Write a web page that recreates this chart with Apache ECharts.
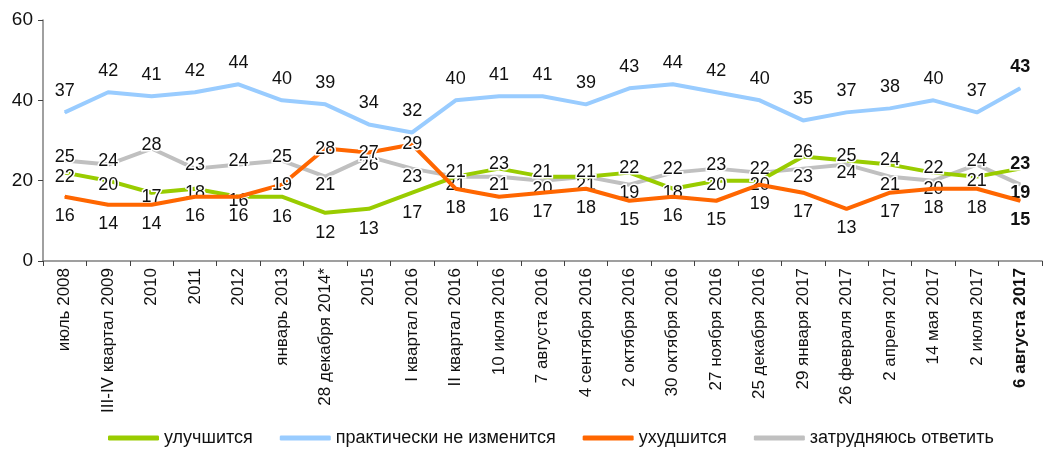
<!DOCTYPE html>
<html>
<head>
<meta charset="utf-8">
<script src="https://cdn.jsdelivr.net/npm/echarts@6/dist/echarts.min.js"></script>
<style>
  html, body { margin: 0; padding: 0; background: #fff; }
  #chart { width: 1059px; height: 455px; }
</style>
</head>
<body>
<div id="chart"></div>
<script>
var categories = ['июль 2008', 'III-IV квартал 2009', '2010', '2011', '2012', 'январь 2013',
  '28 декабря 2014*', '2015', 'I квартал 2016', 'II квартал 2016', '10 июля 2016',
  '7 августа 2016', '4 сентября 2016', '2 октября 2016', '30 октября 2016',
  '27 ноября 2016', '25 декабря 2016', '29 января 2017', '26 февраля 2017',
  '2 апреля 2017', '14 мая 2017', '2 июля 2017', '6 августа 2017'];

var better = [22, 20, 17, 18, 16, 16, 12, 13, 17, 21, 23, 21, 21, 22, 18, 20, 20, 26, 25, 24, 22, 21, 23];
var same   = [37, 42, 41, 42, 44, 40, 39, 34, 32, 40, 41, 41, 39, 43, 44, 42, 40, 35, 37, 38, 40, 37, 43];
var worse  = [16, 14, 14, 16, 16, 19, 28, 27, 29, 18, 16, 17, 18, 15, 16, 15, 19, 17, 13, 17, 18, 18, 15];
var hard   = [25, 24, 28, 23, 24, 25, 21, 26, 23, 21, 21, 20, 21, 19, 22, 23, 22, 23, 24, 21, 20, 24, 19];

var seriesNames = ['улучшится', 'практически не изменится', 'ухудшится', 'затрудняюсь ответить'];
var colors = ['#99cc00', '#99ccff', '#ff6600', '#c0c0c0'];

var last = categories.length - 1;

// vertical shift of a value label, picked from how the lines sit at that point
function shift(key, i) {
  var g = better[i], o = worse[i], h = hard[i];
  if (key === 'same') return -21;
  if (key === 'worse') return (o <= g && o <= h) ? 19 : 0;
  if (key === 'better') {
    if (g < o && g < h) return 20;
    return g >= h ? -5 : 4;
  }
  // hard
  return (h > g && h > o) ? -4 : 8;
}

function points(key, vals) {
  return vals.map(function (v, i) {
    return {
      value: v,
      label: {
        offset: [0, shift(key, i)],
        fontWeight: i === last ? 'bold' : 'normal'
      }
    };
  });
}

function lineSeries(name, color, key, vals, z) {
  return {
    name: name,
    type: 'line',
    z: z,
    data: points(key, vals),
    symbol: 'circle',
    symbolSize: 1,
    itemStyle: { color: color },
    lineStyle: { color: color, width: 4 },
    label: {
      show: true,
      position: 'inside',
      color: '#111',
      fontSize: 18,
      fontFamily: 'Liberation Sans',
      textBorderColor: '#fff',
      textBorderWidth: 3
    },
    emphasis: { disabled: true },
    animation: false
  };
}

var chart = echarts.init(document.getElementById('chart'));
var option = {
  backgroundColor: '#fff',
  grid: { left: 43, right: 17, top: 20, bottom: 194 },
  legend: {
    left: 103,
    bottom: 3,
    icon: 'roundRect',
    itemWidth: 51,
    itemHeight: 5,
    itemGap: 27,
    textStyle: { fontSize: 18, color: '#111', fontFamily: 'Liberation Sans' },
    data: seriesNames
  },
  xAxis: {
    type: 'category',
    data: categories,
    axisLine: { lineStyle: { color: '#808080', width: 1.5 } },
    axisTick: { show: true, length: 5, lineStyle: { color: '#404040' } },
    axisLabel: {
      rotate: 90,
      interval: 0,
      margin: 7,
      fontSize: 17,
      color: '#111',
      fontFamily: 'Liberation Sans',
      formatter: function (v, i) {
        return i === last ? '{b|' + v + '}' : v;
      },
      rich: { b: { fontWeight: 'bold', fontSize: 17, color: '#111', fontFamily: 'Liberation Sans' } }
    }
  },
  yAxis: {
    type: 'value',
    min: 0,
    max: 60,
    interval: 20,
    splitLine: { show: false },
    axisLine: { show: true, lineStyle: { color: '#808080', width: 1.5 } },
    axisTick: { show: true, length: 5, lineStyle: { color: '#404040' } },
    axisLabel: { fontSize: 19, color: '#111', margin: 10, fontFamily: 'Liberation Sans' }
  },
  series: [
    lineSeries(seriesNames[0], colors[0], 'better', better, 3),
    lineSeries(seriesNames[1], colors[1], 'same', same, 2),
    lineSeries(seriesNames[2], colors[2], 'worse', worse, 4),
    lineSeries(seriesNames[3], colors[3], 'hard', hard, 2)
  ]
};
chart.setOption(option);
</script>
</body>
</html>
